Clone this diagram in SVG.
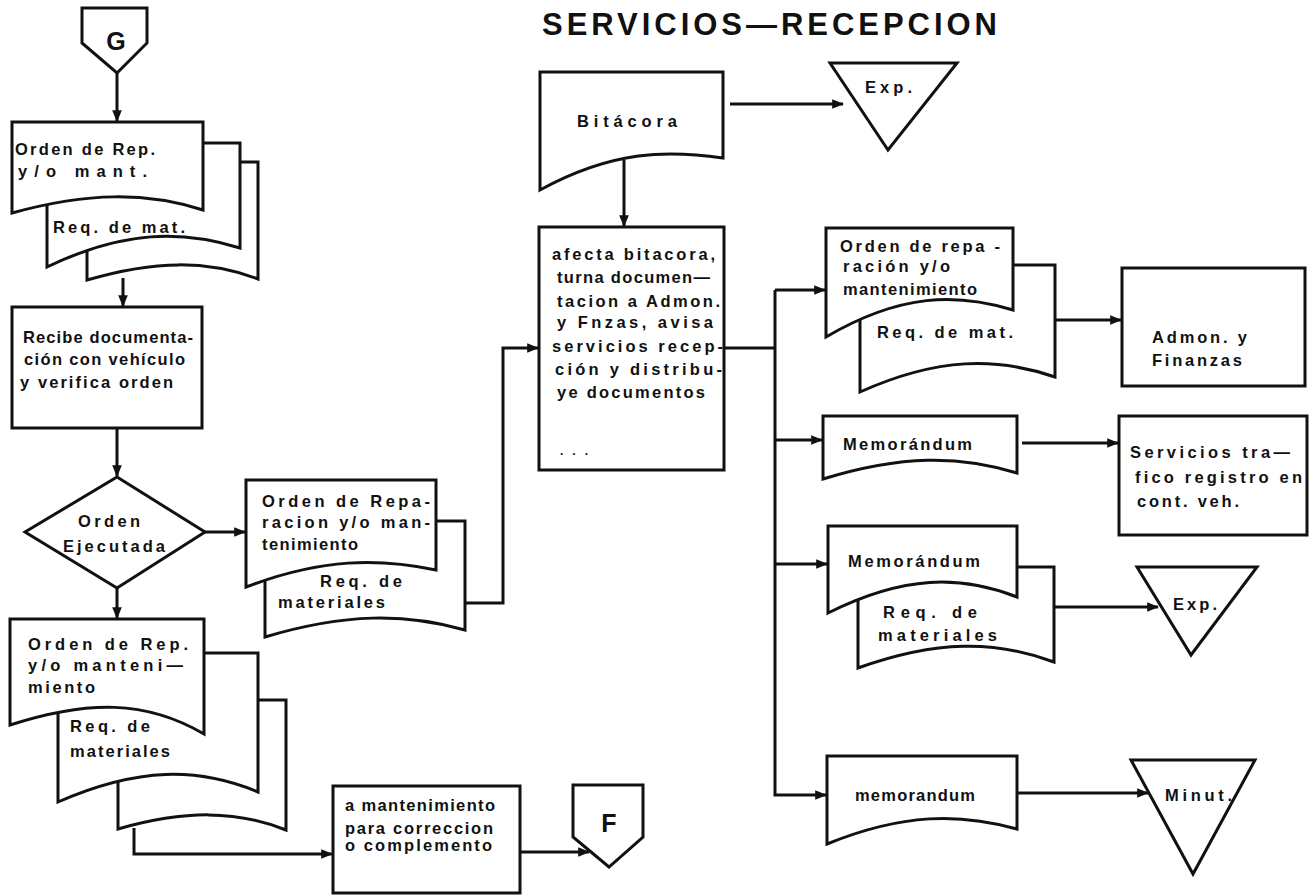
<svg xmlns="http://www.w3.org/2000/svg" width="1310" height="896" viewBox="0 0 1310 896">
  <style>
    .shape { fill: #fff; stroke: #111; stroke-width: 3; stroke-linejoin: miter; }
    .wire { fill: none; stroke: #111; stroke-width: 3; }
    .lbl { font-family: "Liberation Sans", Arial, sans-serif; font-size: 16.5px; font-weight: bold; fill: #111; }
    .big { font-family: "Liberation Sans", Arial, sans-serif; font-size: 25px; font-weight: bold; fill: #111; text-anchor: middle; }
    .title { font-family: "Liberation Sans", Arial, sans-serif; font-size: 31px; font-weight: bold; fill: #111; }
  </style>
  <defs>
    <marker id="ah" viewBox="0 0 10 10" refX="9" refY="5" markerWidth="12" markerHeight="12" markerUnits="userSpaceOnUse" orient="auto">
      <path d="M0,1 L10,5 L0,9 Z" fill="#111"/>
    </marker>
  </defs>
  <rect width="1310" height="896" fill="#fff"/>

  <text class="title" x="542" y="35" textLength="455" lengthAdjust="spacing">SERVICIOS—RECEPCION</text>

  <!-- connectors -->
  <g id="connectors">
    <path class="wire" d="M117,73 V121" marker-end="url(#ah)"/>
    <path class="wire" d="M123,278 V306" marker-end="url(#ah)"/>
    <path class="wire" d="M117,428 V476" marker-end="url(#ah)"/>
    <path class="wire" d="M205,532 H245" marker-end="url(#ah)"/>
    <path class="wire" d="M117,588 V618" marker-end="url(#ah)"/>
    <path class="wire" d="M465,603 H503 V348 H538" marker-end="url(#ah)"/>
    <path class="wire" d="M134,828 V854 H332" marker-end="url(#ah)"/>
    <path class="wire" d="M520,852 H589" marker-end="url(#ah)"/>
    <path class="wire" d="M730,104 H843" marker-end="url(#ah)"/>
    <path class="wire" d="M624,160 V226" marker-end="url(#ah)"/>
    <path class="wire" d="M724,348 H775"/>
    <path class="wire" d="M775,290 V795 H826" marker-end="url(#ah)"/>
    <path class="wire" d="M775,290 H825" marker-end="url(#ah)"/>
    <path class="wire" d="M775,440 H822" marker-end="url(#ah)"/>
    <path class="wire" d="M775,564 H827" marker-end="url(#ah)"/>
    <path class="wire" d="M1055,320 H1121" marker-end="url(#ah)"/>
    <path class="wire" d="M1022,443 H1118" marker-end="url(#ah)"/>
    <path class="wire" d="M1054,607 H1158" marker-end="url(#ah)"/>
    <path class="wire" d="M1017,793 H1148" marker-end="url(#ah)"/>
  </g>

  <!-- off-page connector G -->
  <g id="conn-g">
    <path class="shape" d="M82,8 H147 V43 L117,73 L82,43 Z"/>
    <text class="big" x="116" y="50">G</text>
  </g>

  <!-- order + requisition stack -->
  <g id="doc-orden-rep-1">
    <path class="shape" d="M87,162 H258 V279 C207,260 155,260 87,280 Z"/>
    <path class="shape" d="M47,143 H240 V248 C182,230 124,230 47,267 Z"/>
    <path class="shape" d="M12,122 H203 V210 C146,192 88,192 12,213 Z"/>
    <text class="lbl" x="15" y="155" textLength="140" lengthAdjust="spacing">Orden de Rep.</text>
    <text class="lbl" x="18" y="177" textLength="129" lengthAdjust="spacing">y/o mant.</text>
    <text class="lbl" x="53" y="233" textLength="132" lengthAdjust="spacing">Req. de mat.</text>
  </g>

  <g id="proc-recibe">
    <rect class="shape" x="12" y="307" width="190" height="121"/>
    <text class="lbl" x="23" y="343" textLength="170" lengthAdjust="spacing">Recibe documenta-</text>
    <text class="lbl" x="24" y="365" textLength="161" lengthAdjust="spacing">ción con vehículo</text>
    <text class="lbl" x="20" y="388" textLength="153" lengthAdjust="spacing">y verifica orden</text>
  </g>

  <g id="dec-ejecutada">
    <path class="shape" d="M117,477 L205,532 L117,588 L25,532 Z"/>
    <text class="lbl" x="78" y="527" textLength="62" lengthAdjust="spacing">Orden</text>
    <text class="lbl" x="63" y="552" textLength="102" lengthAdjust="spacing">Ejecutada</text>
  </g>

  <g id="doc-orden-reparacion">
    <path class="shape" d="M265,521 H465 V630 C405,613 345,613 265,637 Z"/>
    <path class="shape" d="M246,480 H436 V570 C379,558 322,558 246,587 Z"/>
    <text class="lbl" x="262" y="507" textLength="168" lengthAdjust="spacing">Orden de Repa-</text>
    <text class="lbl" x="262" y="528" textLength="168" lengthAdjust="spacing">racion y/o man-</text>
    <text class="lbl" x="262" y="550" textLength="96" lengthAdjust="spacing">tenimiento</text>
    <text class="lbl" x="320" y="587" textLength="82" lengthAdjust="spacing">Req. de</text>
    <text class="lbl" x="278" y="608" textLength="107" lengthAdjust="spacing">materiales</text>
  </g>

  <g id="doc-orden-rep-2">
    <path class="shape" d="M118,700 H286 V830 C236,810 185,810 118,829 Z"/>
    <path class="shape" d="M58,653 H258 V792 C198,767 138,767 58,802 Z"/>
    <path class="shape" d="M10,619 H204 V734 C146,700 88,700 10,725 Z"/>
    <text class="lbl" x="28" y="650" textLength="160" lengthAdjust="spacing">Orden de Rep.</text>
    <text class="lbl" x="28" y="671" textLength="155" lengthAdjust="spacing">y/o manteni—</text>
    <text class="lbl" x="28" y="693" textLength="67" lengthAdjust="spacing">miento</text>
    <text class="lbl" x="70" y="732" textLength="80" lengthAdjust="spacing">Req. de</text>
    <text class="lbl" x="70" y="757" textLength="100" lengthAdjust="spacing">materiales</text>
  </g>

  <g id="proc-mantenimiento">
    <rect class="shape" x="333" y="786" width="187" height="107"/>
    <text class="lbl" x="345" y="811" textLength="150" lengthAdjust="spacing">a mantenimiento</text>
    <text class="lbl" x="345" y="834" textLength="148" lengthAdjust="spacing">para correccion</text>
    <text class="lbl" x="345" y="851" textLength="147" lengthAdjust="spacing">o complemento</text>
  </g>

  <g id="conn-f">
    <path class="shape" d="M573,785 H643 V837 L609,867 L573,837 Z"/>
    <text class="big" x="609" y="832">F</text>
  </g>

  <g id="doc-bitacora">
    <path class="shape" d="M540,72 H723 V158 C668,150 613,150 540,190 Z"/>
    <text class="lbl" x="577" y="127" textLength="100" lengthAdjust="spacing">Bitácora</text>
  </g>

  <g id="file-exp-1">
    <path class="shape" d="M830,63 H957 L888,150 Z"/>
    <text class="lbl" x="865" y="93" textLength="47" lengthAdjust="spacing">Exp.</text>
  </g>

  <g id="proc-afecta">
    <rect class="shape" x="539" y="227" width="185" height="243"/>
    <text class="lbl" x="552" y="260" textLength="163" lengthAdjust="spacing">afecta bitacora,</text>
    <text class="lbl" x="557" y="283" textLength="153" lengthAdjust="spacing">turna documen—</text>
    <text class="lbl" x="557" y="307" textLength="163" lengthAdjust="spacing">tacion a Admon.</text>
    <text class="lbl" x="557" y="328" textLength="156" lengthAdjust="spacing">y Fnzas, avisa</text>
    <text class="lbl" x="552" y="352" textLength="171" lengthAdjust="spacing">servicios recep-</text>
    <text class="lbl" x="555" y="375" textLength="167" lengthAdjust="spacing">ción y distribu-</text>
    <text class="lbl" x="557" y="398" textLength="148" lengthAdjust="spacing">ye documentos</text>
    <text class="lbl" x="560" y="455" textLength="28" lengthAdjust="spacing" style="font-size:12px">. . .</text>
  </g>

  <g id="doc-orden-repa">
    <path class="shape" d="M860,265 H1055 V377 C997,357 938,357 860,392 Z"/>
    <path class="shape" d="M826,228 H1013 V310 C957,293 901,293 826,337 Z"/>
    <text class="lbl" x="840" y="252" textLength="160" lengthAdjust="spacing">Orden de repa -</text>
    <text class="lbl" x="843" y="272" textLength="107" lengthAdjust="spacing">ración y/o</text>
    <text class="lbl" x="843" y="295" textLength="134" lengthAdjust="spacing">mantenimiento</text>
    <text class="lbl" x="877" y="338" textLength="136" lengthAdjust="spacing">Req. de mat.</text>
  </g>

  <g id="proc-admon">
    <rect class="shape" x="1122" y="268" width="183" height="118"/>
    <text class="lbl" x="1152" y="343" textLength="95" lengthAdjust="spacing">Admon. y</text>
    <text class="lbl" x="1152" y="366" textLength="90" lengthAdjust="spacing">Finanzas</text>
  </g>

  <g id="doc-memo-1">
    <path class="shape" d="M823,416 H1017 V473 C959,455 901,455 823,479 Z"/>
    <text class="lbl" x="843" y="450" textLength="129" lengthAdjust="spacing">Memorándum</text>
  </g>

  <g id="proc-servicios">
    <rect class="shape" x="1119" y="416" width="188" height="119"/>
    <text class="lbl" x="1130" y="458" textLength="160" lengthAdjust="spacing">Servicios tra—</text>
    <text class="lbl" x="1135" y="483" textLength="167" lengthAdjust="spacing">fico registro en</text>
    <text class="lbl" x="1137" y="507" textLength="102" lengthAdjust="spacing">cont. veh.</text>
  </g>

  <g id="doc-memo-2">
    <path class="shape" d="M858,567 H1054 V662 C995,640 936,640 858,668 Z"/>
    <path class="shape" d="M828,526 H1017 V597 C960,575 904,575 828,613 Z"/>
    <text class="lbl" x="848" y="567" textLength="132" lengthAdjust="spacing">Memorándum</text>
    <text class="lbl" x="883" y="618" textLength="94" lengthAdjust="spacing">Req. de</text>
    <text class="lbl" x="878" y="641" textLength="119" lengthAdjust="spacing">materiales</text>
  </g>

  <g id="file-exp-2">
    <path class="shape" d="M1137,567 H1257 L1191,655 Z"/>
    <text class="lbl" x="1173" y="610" textLength="44" lengthAdjust="spacing">Exp.</text>
  </g>

  <g id="doc-memo-3">
    <path class="shape" d="M827,756 H1017 V829 C960,813 903,813 827,844 Z"/>
    <text class="lbl" x="855" y="801" textLength="120" lengthAdjust="spacing">memorandum</text>
  </g>

  <g id="file-minut">
    <path class="shape" d="M1131,760 H1255 L1193,874 Z"/>
    <text class="lbl" x="1165" y="801" textLength="67" lengthAdjust="spacing">Minut.</text>
  </g>
</svg>
